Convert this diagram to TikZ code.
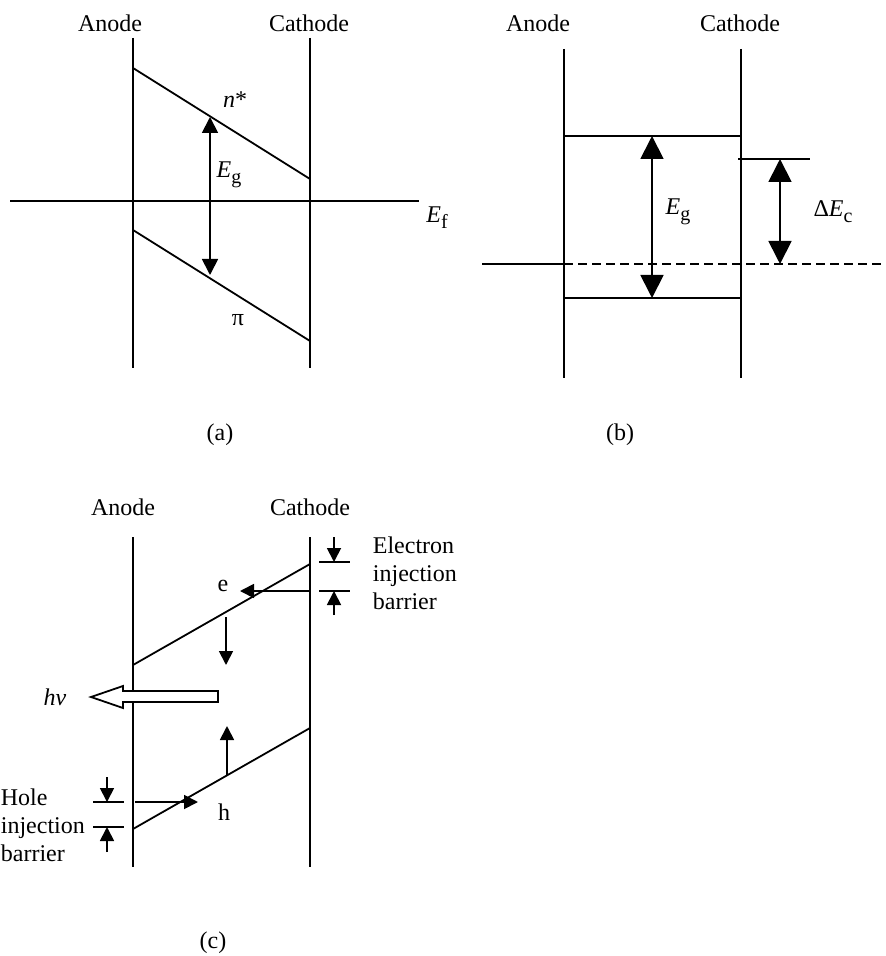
\documentclass[tikz,border=0pt]{standalone}
\usepackage{fontspec}
\setmainfont{Liberation Serif}
\usetikzlibrary{arrows.meta}

\newcommand\lsub[1]{\raisebox{-0.55ex}{\fontsize{10}{10}\selectfont #1}}

\begin{document}
\begin{tikzpicture}[
  x=0.5pt, y=-0.5pt,
  line width=0.9pt,
  lbl/.style={font=\fontsize{12}{14}\selectfont, inner sep=0pt},
  txt/.style={lbl, align=left, anchor=west},
  midarr/.style={{Triangle[length=8pt, width=8pt]}-{Triangle[length=8pt, width=8pt]}},
  bigarr/.style={{Triangle[length=11.5pt, width=11.5pt]}-{Triangle[length=11.5pt, width=11.5pt]}},
  smlarr/.style={-{Triangle[length=7pt, width=7pt]}},
  fermi/.style={dashed, dash pattern=on 4.5pt off 2.5pt}
]
\useasboundingbox (0,0) rectangle (886,956);

% (a) -- electrodes, bands and Fermi level
\coordinate (aAt) at (133,38);  \coordinate (aAb) at (133,368);
\coordinate (aCt) at (310,38);  \coordinate (aCb) at (310,368);
\draw (aAt) -- (aAb);
\draw (aCt) -- (aCb);
\draw (10,201) -- (419,201);
\draw (133,68) -- (310,179);
\draw (133,230) -- (310,341);
\coordinate (aGt) at (210,117); \coordinate (aGb) at (210,275);
\draw[midarr] (aGt) -- (aGb);

\node[lbl] (aAnode) at (110,23) {Anode};
\node[lbl] (aCathode) at (309,23) {Cathode};
\node[lbl] (lstar) at (235,100) {\textit{n}*};
\node[lbl] (aEg) at (229,175) {\textit{E}\lsub{g}};
\node[lbl] (lpi) at (238,320) {π};
\node[lbl] (lEf) at (437,218) {\textit{E}\lsub{f}};
\node[lbl] (capa) at (220,435) {(a)};

% (b)
\coordinate (bAt) at (564,49);  \coordinate (bAb) at (564,378);
\coordinate (bCt) at (741,49);  \coordinate (bCb) at (741,378);
\draw (bAt) -- (bAb);
\draw (bCt) -- (bCb);
\draw (564,136) -- (741,136);
\draw (564,298) -- (741,298);
\draw (482,264) -- (564,264);
\draw[fermi] (564,264) -- (886,264);
\draw (738,159) -- (810,159);
\coordinate (bGt) at (652,136); \coordinate (bGb) at (652,298);
\draw[bigarr] (bGt) -- (bGb);
\coordinate (bDt) at (780,159); \coordinate (bDb) at (780,264);
\draw[bigarr] (bDt) -- (bDb);

\node[lbl] (bAnode) at (538,23) {Anode};
\node[lbl] (bCathode) at (740,23) {Cathode};
\node[lbl] (bEg) at (678,212) {\textit{E}\lsub{g}};
\node[lbl] (bEc) at (833,212) {Δ\textit{E}\lsub{c}};
\node[lbl] (capb) at (620,435) {(b)};

% (c)
\coordinate (cAt) at (133,537); \coordinate (cAb) at (133,867);
\coordinate (cCt) at (310,537); \coordinate (cCb) at (310,867);
\draw (cAt) -- (cAb);
\draw (cCt) -- (cCb);
\draw (133,665) -- (310,564);
\draw (133,829) -- (310,728);

% electron side
\draw (319,562) -- (350,562);
\draw (319,591) -- (350,591);
\draw[smlarr] (334,537) -- (334,562);
\draw[smlarr] (334,615) -- (334,591);
\coordinate (eIn) at (310,591); \coordinate (eOut) at (240,591);
\draw[smlarr] (eIn) -- (eOut);
\coordinate (eDt) at (226,617); \coordinate (eDb) at (226,665);
\draw[smlarr] (eDt) -- (eDb);

% hole side
\draw (93,802) -- (124,802);
\draw (93,827) -- (124,827);
\draw[smlarr] (107,777) -- (107,802);
\draw[smlarr] (107,852) -- (107,827);
\coordinate (hIn) at (135,802); \coordinate (hOut) at (198,802);
\draw[smlarr] (hIn) -- (hOut);
\coordinate (hUb) at (227,775); \coordinate (hUt) at (227,726);
\draw[smlarr] (hUb) -- (hUt);

% emitted light
\draw[fill=white] (218,691) -- (123,691) -- (123,686) -- (91,697)
  -- (123,708) -- (123,702) -- (218,702) -- cycle;

\node[lbl] (cAnode) at (123,507) {Anode};
\node[lbl] (cCathode) at (310,507) {Cathode};
\node[lbl] (le) at (223,586) {e};
\node[lbl] (lh) at (224,812) {h};
\node[lbl] (lhv) at (55,697) {\textit{hv}};
\node[txt] (ebar) at (372,573) {Electron\\injection\\barrier};
\node[txt] (hbar) at (0,825) {Hole\\injection\\barrier};
\node[lbl] (capc) at (213,943) {(c)};
\end{tikzpicture}
\end{document}
